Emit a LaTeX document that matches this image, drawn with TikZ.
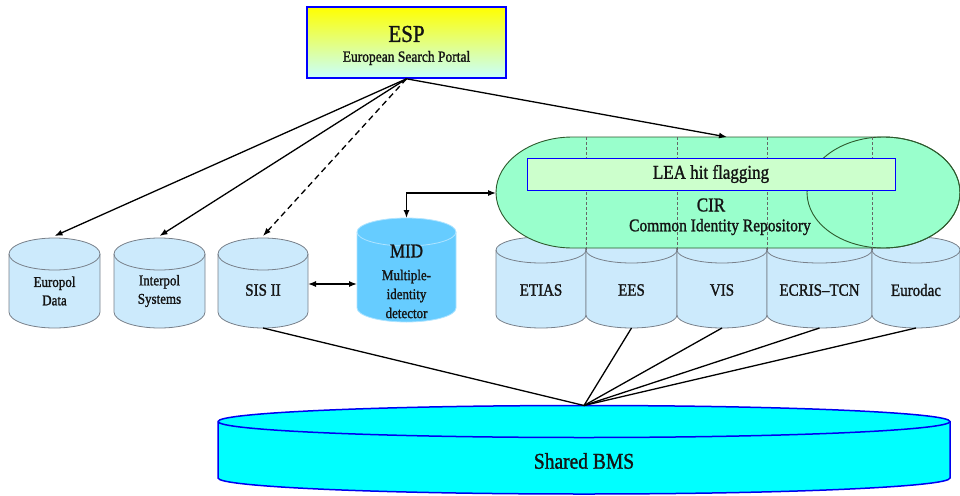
\documentclass[tikz,border=0pt]{standalone}
\usepackage{fontspec}
\usepackage{graphicx}
\setmainfont{Liberation Serif}[FakeBold=1.4]
\usetikzlibrary{arrows.meta}
\definecolor{cylfill}{RGB}{204,234,252}
\definecolor{cyldraw}{RGB}{120,128,138}
\definecolor{midfill}{RGB}{102,204,255}
\definecolor{midline}{RGB}{175,228,255}
\definecolor{cirfill}{RGB}{153,255,204}
\definecolor{cirdraw}{RGB}{45,90,45}
\definecolor{leafill}{RGB}{204,255,204}
\definecolor{bmsblue}{RGB}{0,0,240}
\definecolor{bmsfill}{RGB}{0,255,255}
\definecolor{txtc}{RGB}{20,20,20}
\definecolor{espbot}{RGB}{200,255,255}
\definecolor{espyel}{RGB}{255,255,0}
\newcommand{\vcyl}[7]{%
  \path[#7] (#2-#5,-#3) -- (#2-#5,-#4) arc[start angle=180,end angle=360,x radius=#5,y radius=#6] -- (#2+#5,-#3) arc[start angle=0,end angle=180,x radius=#5,y radius=#6] -- cycle;
  \path[#7,fill=none] (#2-#5,-#3) arc[start angle=180,end angle=360,x radius=#5,y radius=#6];
  \node[inner sep=0pt, outer sep=0pt, minimum width={2*#5}, minimum height={#4-#3+2*#6}] (#1) at (#2,{-(#3+#4)/2}) {};
}
\begin{document}
\begin{tikzpicture}[x=1pt,y=1pt,
  cyl/.style={draw=cyldraw, fill=cylfill, line width=0.8pt},
  midcyl/.style={draw=midline, fill=midfill, line width=0.8pt},
  bmscyl/.style={draw=bmsblue, fill=bmsfill, line width=1.5pt},
  lbl/.style={text=txtc, align=center, inner sep=0pt, transform shape, yscale=1.15},
  conn/.style={line width=1.3pt, black},
  arr/.style={conn, -{Latex[length=8pt,width=6pt]}},
  darr/.style={conn, {Latex[length=8pt,width=6pt]}-{Latex[length=8pt,width=6pt]}},
  sep/.style={draw=black!60, dashed, dash pattern=on 3pt off 2pt, line width=0.5pt}]
\path[use as bounding box] (0,0) rectangle (960,-495);

% ESP box
\node[draw=blue, line width=1.6pt, minimum width=199, minimum height=71, inner sep=0pt,
      top color=espyel, middle color=white, bottom color=espbot, shading angle=0] (esp) at (406.5,-42.5) {};
\node[lbl, font=\fontsize{21}{24}\selectfont] (esptitle) at (406.5,-34) {ESP};
\node[lbl, font=\fontsize{13.5}{16}\selectfont] (espsub) at (406.5,-58) {European Search Portal};

% left cylinders
\vcyl{europol}{54.5}{254}{312}{45.5}{16}{cyl}
\vcyl{interpol}{159.5}{254}{312}{45.5}{16}{cyl}
\vcyl{sis}{263}{254}{312}{45}{16}{cyl}
\vcyl{mid}{406.5}{232}{308}{49.5}{14}{midcyl}
\node[lbl, font=\fontsize{13}{16}\selectfont] (teuropol) at (54.5,-291) {Europol\\Data};
\node[lbl, font=\fontsize{13}{16}\selectfont] (tinterpol) at (159.5,-291) {Interpol\\Systems};
\node[lbl, font=\fontsize{15}{18}\selectfont] (tsis) at (263,-290) {SIS II};
\node[lbl, font=\fontsize{17}{20}\selectfont] (tmid) at (406.5,-251) {MID};
\node[lbl, font=\fontsize{13}{16.5}\selectfont] (tmid2) at (406.5,-294) {Multiple-\\identity\\detector};

% row cylinders under CIR
\vcyl{etias}{541}{250}{315}{45}{13}{cyl}
\vcyl{ees}{631.5}{250}{315}{45.5}{13}{cyl}
\vcyl{vis}{722}{250}{315}{45}{13}{cyl}
\vcyl{ecris}{819.5}{250}{315}{52.5}{13}{cyl}
\vcyl{eurodac}{916}{250}{315}{44}{13}{cyl}

% CIR
\path[draw=cirdraw, fill=cirfill, line width=0.9pt]
  (572.5,-137) -- (883.5,-137) arc[start angle=90,end angle=-90,x radius=76.5,y radius=55.5]
  -- (572.5,-248) arc[start angle=270,end angle=90,x radius=76.5,y radius=55.5] -- cycle;
\draw[draw=cirdraw, line width=0.9pt] (883.5,-192.5) ellipse[x radius=76.5, y radius=55.5];
\coordinate (cirtop) at (727,-137);
\coordinate (cirwest) at (496,-193);
\foreach \xx in {586,677,767,872} {\draw[sep] (\xx,-137) -- (\xx,-250);}

\node[draw=blue, fill=leafill, line width=1pt, minimum width=368, minimum height=32, inner sep=0pt] (lea) at (711,-174) {};
\node[lbl, font=\fontsize{17}{20}\selectfont] (tlea) at (711,-174) {LEA hit flagging};
\node[lbl, font=\fontsize{17}{20}\selectfont] (tcir) at (711,-205) {CIR};
\node[lbl, font=\fontsize{15.5}{18}\selectfont] (tcir2) at (720,-227) {Common Identity Repository};

\node[lbl, font=\fontsize{15}{18}\selectfont] (tetias) at (541,-290) {ETIAS};
\node[lbl, font=\fontsize{15}{18}\selectfont] (tees) at (631.5,-290) {EES};
\node[lbl, font=\fontsize{15}{18}\selectfont] (tvis) at (722,-290) {VIS};
\node[lbl, font=\fontsize{15}{18}\selectfont] (tecris) at (819.5,-290) {ECRIS–TCN};
\node[lbl, font=\fontsize{15}{18}\selectfont] (teurodac) at (916,-290) {Eurodac};

% Shared BMS
\vcyl{bms}{584}{421.5}{478}{366}{16}{bmscyl}
\node[lbl, font=\fontsize{19.5}{22}\selectfont] (tbms) at (584,-461) {Shared BMS};

% connectors from ESP
\draw[arr] (esp.south) -- ([yshift=2pt]europol.north);
\draw[arr] (esp.south) -- ([yshift=2pt]interpol.north);
\draw[arr, dashed, dash pattern=on 6pt off 4pt] (esp.south) -- ([yshift=2pt]sis.north);
\draw[arr] (esp.south) -- (cirtop);

% MID connectors
\draw[darr] (mid.north) |- (cirwest);
\draw[darr] ([yshift=-1pt]sis.east) -- ([yshift=-1pt]sis.east -| mid.west);

% lines to BMS
\draw[conn] (sis.south) -- (bms.north);
\draw[conn] (ees.south) -- (bms.north);
\draw[conn] (vis.south) -- (bms.north);
\draw[conn] (ecris.south) -- (bms.north);
\draw[conn] (eurodac.south) -- (bms.north);
\end{tikzpicture}
\end{document}
